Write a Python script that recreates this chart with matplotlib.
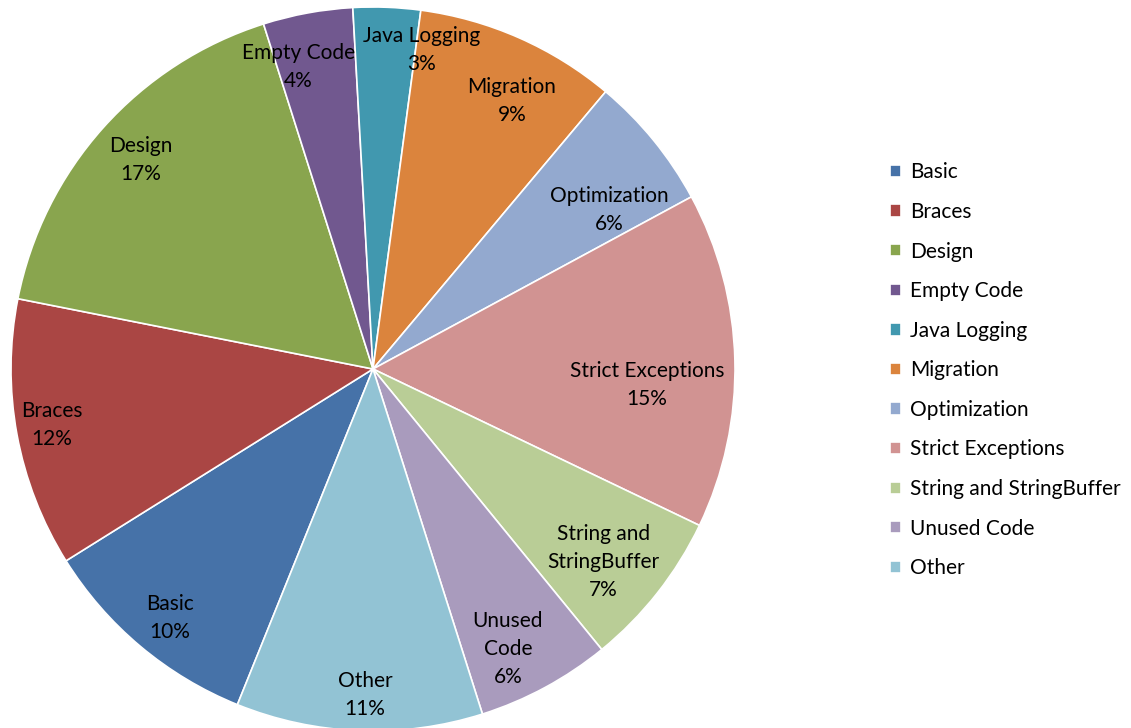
import numpy as np
import matplotlib.pyplot as plt

# PMD rule categories and their share of reported violations (%)
categories = ['Basic', 'Braces', 'Design', 'Empty Code', 'Java Logging',
              'Migration', 'Optimization', 'Strict Exceptions',
              'String and StringBuffer', 'Unused Code', 'Other']
shares = [10, 12, 17, 4, 3, 9, 6, 15, 7, 6, 11]
label_text = ['Basic', 'Braces', 'Design', 'Empty Code', 'Java Logging',
              'Migration', 'Optimization', 'Strict Exceptions',
              'String and\nStringBuffer', 'Unused\nCode', 'Other']

colors = ['#4672A8', '#AA4644', '#89A54E', '#71588F', '#4198AF',
          '#DB843D', '#93A9CF', '#D19392', '#B9CD96', '#A99BBD', '#92C3D4']
# label placement: fraction of radius and clockwise nudge from the wedge middle (deg)
label_r = [0.887, 0.90, 0.863, 0.86, 0.89, 0.834, 0.786, 0.758, 0.83, 0.859, 0.90]
label_nudge = [-0.8, 0.5, 0.2, -3.5, 6.4, 3.6, 5.2, 4.7, 1.8, 2.7, -0.8]

plt.rcParams['font.family'] = ['Lato', 'DejaVu Sans']

fig = plt.figure(figsize=(11.31, 7.28), dpi=100)
ax = fig.add_axes([11 / 1131, -3 / 728, 724 / 1131, 724 / 728])

wedges, _ = ax.pie(shares, colors=colors, startangle=-112, counterclock=False,
                   radius=1.0, wedgeprops=dict(edgecolor='white', linewidth=1.2))
ax.set_xlim(-1, 1)
ax.set_ylim(-1, 1)
ax.set_aspect('equal')
ax.axis('off')

total = sum(shares)
for w, txt, v, r, nudge in zip(wedges, label_text, shares, label_r, label_nudge):
    mid = np.deg2rad((w.theta1 + w.theta2) / 2 - nudge)
    ax.text(r * np.cos(mid), r * np.sin(mid), f'{txt}\n{round(100 * v / total)}%',
            ha='center', va='center', fontsize=15, color='black', linespacing=1.5)

fig.legend(wedges, categories, loc='upper left', bbox_to_anchor=(880 / 1131, 1 - 152 / 728),
           frameon=False, fontsize=15, handlelength=0.53, handleheight=0.53,
           handletextpad=0.4, labelspacing=0.94, borderpad=0)

fig.savefig('out.png', dpi=100)
